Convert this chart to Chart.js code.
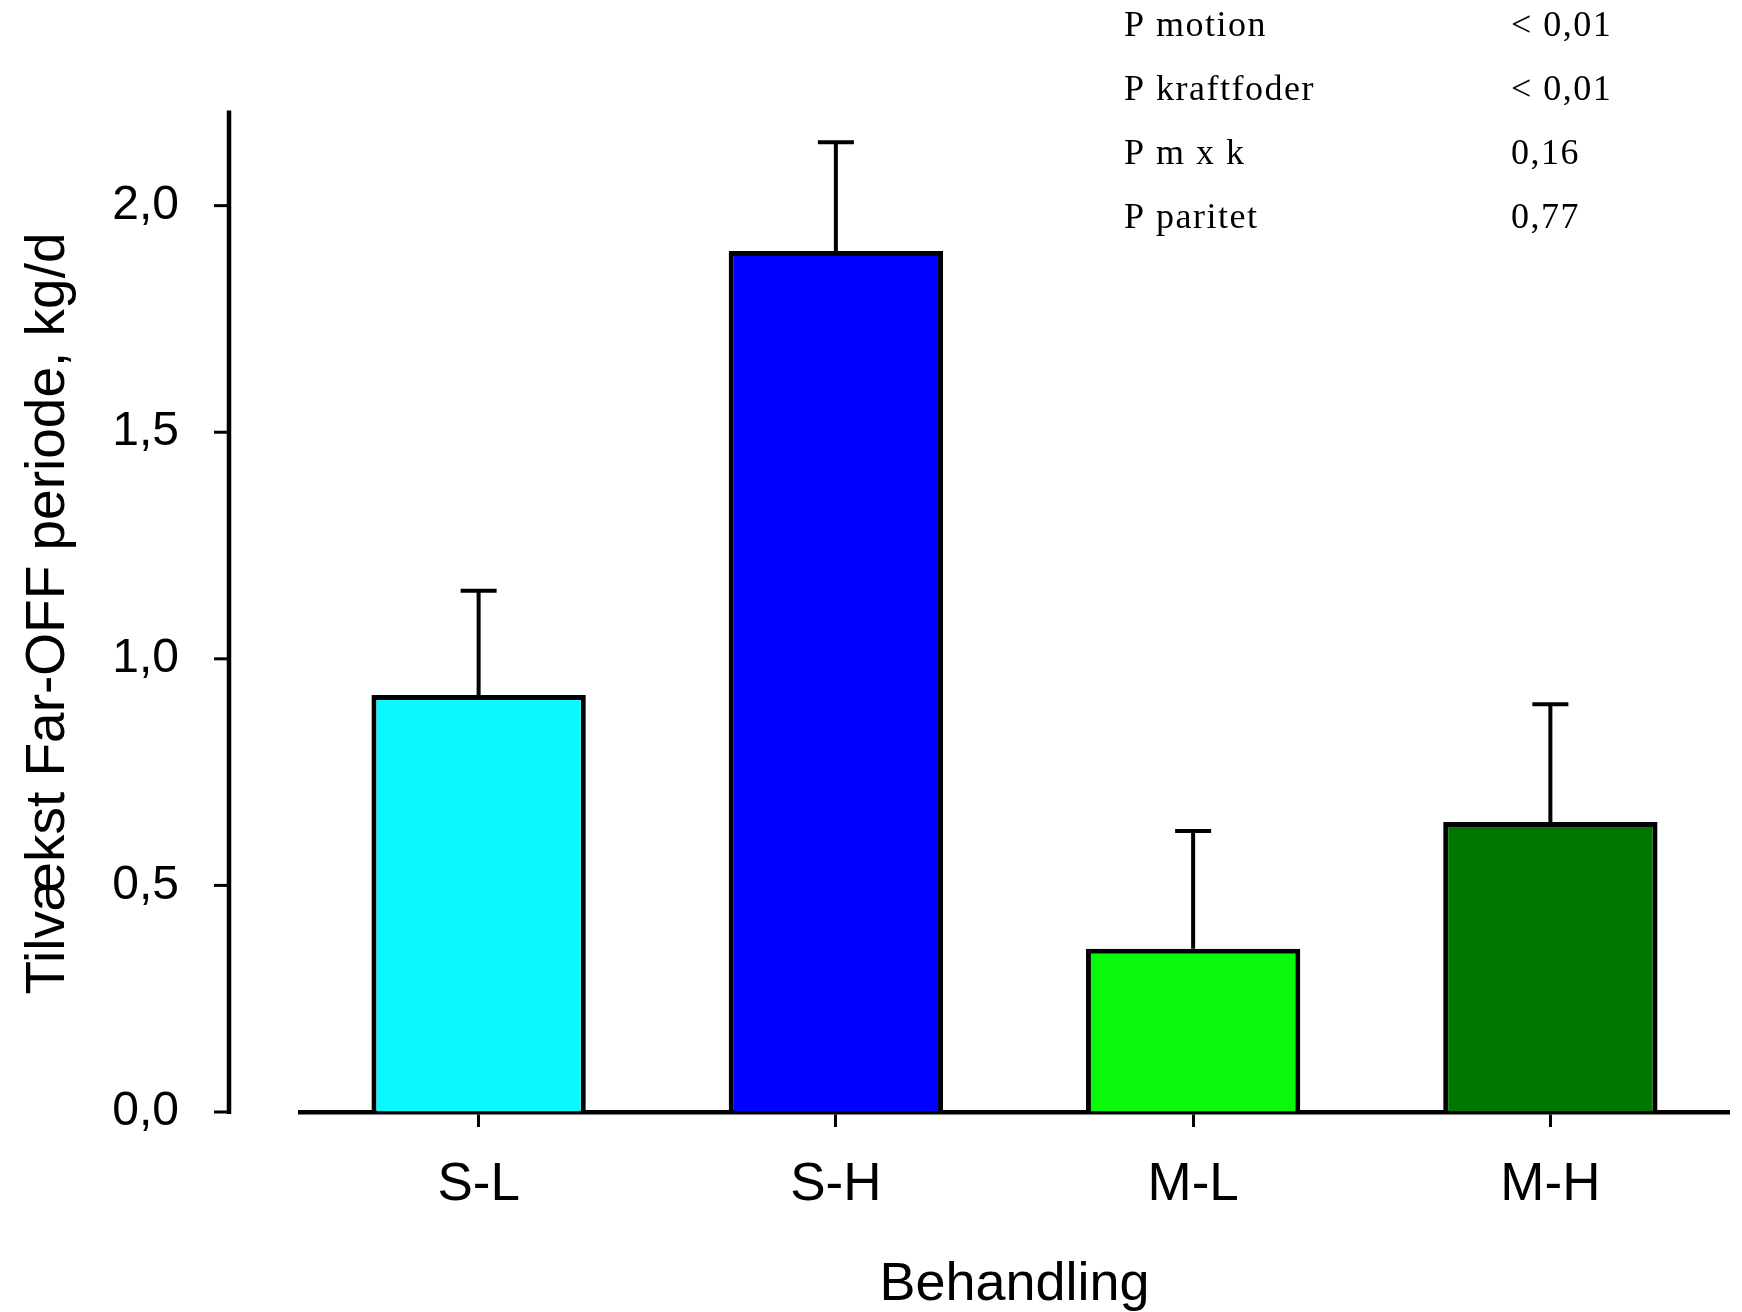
<!DOCTYPE html>
<html>
<head>
<meta charset="utf-8">
<title>Tilvækst Far-OFF periode</title>
<script src="https://cdn.jsdelivr.net/npm/chart.js@4.4.1/dist/chart.umd.min.js"></script>
<style>
    html, body { margin: 0; padding: 0; background: #fff; }
    #wrap { width: 1742px; height: 1312px; }
</style>
</head>
<body>
<div id="wrap"><canvas id="growthChart" width="1742" height="1312"></canvas></div>
<script>
const categories = ["S-L", "S-H", "M-L", "M-H"];
const means = [0.92, 1.90, 0.36, 0.64];
const stdErrors = [0.23, 0.24, 0.26, 0.26];
const yTickValues = [0, 0.5, 1.0, 1.5, 2.0];
const yTickLabels = ["0,0", "0,5", "1,0", "1,5", "2,0"];
const statNames = ["P motion", "P kraftfoder", "P m x k", "P paritet"];
const statValues = ["< 0,01", "< 0,01", "0,16", "0,77"];

const sansFont = "'Liberation Sans', Arial, sans-serif";

// y axis sits apart from the x axis, so it is drawn by hand at a fixed offset
const offsetYAxis = {
    id: "offsetYAxis",
    afterDraw(chart) {
        const ctx = chart.ctx;
        const y = chart.scales.y;
        const axisX = 229;
        ctx.save();
        ctx.strokeStyle = "#000";
        ctx.lineWidth = 4.5;
        ctx.beginPath();
        ctx.moveTo(axisX, y.getPixelForValue(2.21));
        ctx.lineTo(axisX, y.getPixelForValue(0) + 2);
        ctx.stroke();
        ctx.lineWidth = 3;
        yTickValues.forEach(v => {
            const py = y.getPixelForValue(v);
            ctx.beginPath();
            ctx.moveTo(axisX - 15, py);
            ctx.lineTo(axisX, py);
            ctx.stroke();
        });
        ctx.restore();
    }
};

// upper error bars only
const errorBars = {
    id: "errorBars",
    afterDatasetsDraw(chart) {
        const ctx = chart.ctx;
        const y = chart.scales.y;
        const meta = chart.getDatasetMeta(0);
        ctx.save();
        ctx.strokeStyle = "#000";
        ctx.lineWidth = 4;
        meta.data.forEach((bar, i) => {
            const top = y.getPixelForValue(means[i] + stdErrors[i]);
            const base = y.getPixelForValue(means[i]);
            ctx.beginPath();
            ctx.moveTo(bar.x, base);
            ctx.lineTo(bar.x, top);
            ctx.moveTo(bar.x - 18, top);
            ctx.lineTo(bar.x + 18, top);
            ctx.stroke();
        });
        ctx.restore();
    }
};

// table of p-values in the upper right corner
const statTable = {
    id: "statTable",
    afterDraw(chart) {
        const ctx = chart.ctx;
        ctx.save();
        ctx.fillStyle = "#000";
        ctx.font = "36px 'Liberation Serif', 'Times New Roman', serif";
        ctx.textBaseline = "alphabetic";
        ctx.textAlign = "left";
        ctx.letterSpacing = "1.5px";
        statNames.forEach((name, i) => {
            const baseY = 36 + i * 64;
            ctx.fillText(name, 1124, baseY);
            ctx.fillText(statValues[i], 1511, baseY);
        });
        ctx.restore();
    }
};

new Chart(document.getElementById("growthChart"), {
    type: "bar",
    data: {
        labels: categories,
        datasets: [
            {
                label: "Tilvækst",
                data: means,
                backgroundColor: ["#0cf8ff", "#0000ff", "#0af80a", "#007800"],
                borderColor: "#000",
                borderWidth: 5,
                categoryPercentage: 0.6,
                barPercentage: 1.0,
            },
        ],
    },
    options: {
        responsive: false,
        animation: false,
        layout: {
            padding: { top: 115, right: 13, bottom: 0, left: 0 },
        },
        plugins: {
            legend: { display: false },
            tooltip: { enabled: false },
        },
        scales: {
            x: {
                offset: true,
                grid: {
                    offset: false,
                    drawOnChartArea: false,
                    drawTicks: true,
                    tickLength: 15,
                    tickWidth: 3,
                    tickColor: "#000",
                },
                border: { display: true, color: "#000", width: 4.5 },
                ticks: {
                    color: "#000",
                    padding: 27,
                    font: { family: sansFont, size: 53 },
                },
                title: {
                    display: true,
                    text: "Behandling",
                    color: "#000",
                    padding: { top: 0, bottom: 0 },
                    font: { family: sansFont, size: 54, lineHeight: 1.0 },
                },
                afterFit(scale) {
                    scale.height = 200;
                },
            },
            y: {
                min: 0,
                max: 2.2,
                // invisible long tick marks push the labels clear of the offset axis
                grid: {
                    drawOnChartArea: false,
                    drawTicks: true,
                    tickLength: 121,
                    tickColor: "rgba(0,0,0,0)",
                },
                border: { display: false },
                afterBuildTicks(scale) {
                    scale.ticks = yTickValues.map(v => ({ value: v }));
                },
                ticks: {
                    color: "#000",
                    padding: 0,
                    font: { family: sansFont, size: 48 },
                    callback: (value, index) => yTickLabels[index],
                },
                title: {
                    display: true,
                    text: "Tilvækst Far-OFF periode, kg/d",
                    color: "#000",
                    padding: { top: 16, bottom: 0 },
                    font: { family: sansFont, size: 55 },
                },
                afterFit(scale) {
                    scale.width = 300;
                },
            },
        },
    },
    plugins: [offsetYAxis, errorBars, statTable],
});
</script>
</body>
</html>
